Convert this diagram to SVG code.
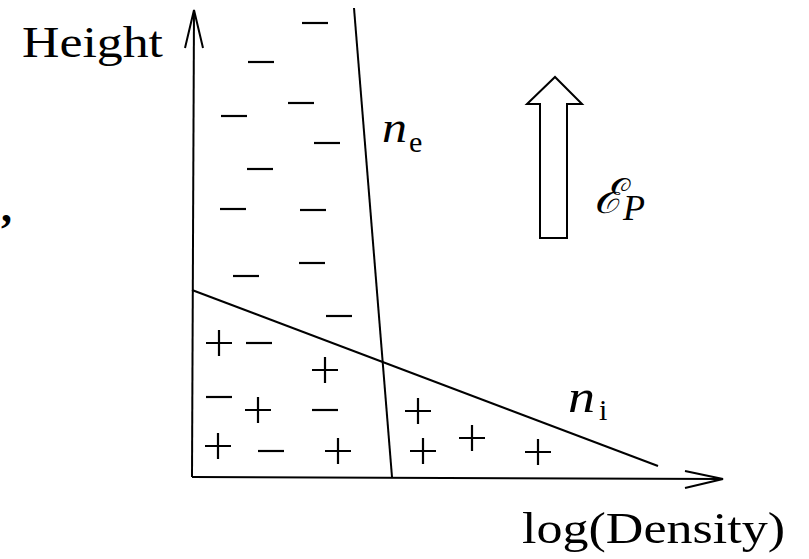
<svg xmlns="http://www.w3.org/2000/svg" xmlns:xlink="http://www.w3.org/1999/xlink" width="809" height="559" viewBox="0 0 809 559">
<style>
.ln{stroke:#000;stroke-width:2;fill:none;stroke-linecap:butt}
.sg{stroke:#000;stroke-width:2.2;fill:none}
.rm{font-family:"Liberation Serif","DejaVu Serif",serif;fill:#000}
.it{font-family:"Liberation Serif","DejaVu Serif",serif;font-style:italic;fill:#000}
</style>
<defs>
<path id="minus" class="sg" d="M-13,0 H13"/>
<path id="plus" class="sg" d="M-13,0 H13 M0,-13 V13"/>
</defs>
<rect width="809" height="559" fill="#fff"/>
<g id="axes">
<path class="ln" d="M192,477 L194,10"/>
<path class="ln" d="M185,48 L194,10 L203,48"/>
<path class="ln" d="M192,477 L722,479"/>
<path class="ln" d="M685,471 L723,479 L685,488"/>
</g>
<g id="connectors">
<path id="ne-line" class="ln" d="M354,8 L392,477"/>
<path id="ni-line" class="ln" d="M192,290 L658,466"/>
</g>
<g id="field-arrow">
<polygon class="ln" fill="#fff" points="540,238 540,104 527,104 555,77 582,104 567,104 567,238"/>
</g>
<g id="minus-signs">
<use xlink:href="#minus" x="315" y="23"/>
<use xlink:href="#minus" x="261" y="62"/>
<use xlink:href="#minus" x="301" y="103"/>
<use xlink:href="#minus" x="234" y="116"/>
<use xlink:href="#minus" x="327" y="143"/>
<use xlink:href="#minus" x="260" y="169"/>
<use xlink:href="#minus" x="233" y="209"/>
<use xlink:href="#minus" x="313" y="210"/>
<use xlink:href="#minus" x="312" y="263"/>
<use xlink:href="#minus" x="246" y="276"/>
<use xlink:href="#minus" x="339" y="316"/>
<use xlink:href="#minus" x="259" y="343"/>
<use xlink:href="#minus" x="219" y="397"/>
<use xlink:href="#minus" x="325" y="410"/>
<use xlink:href="#minus" x="271" y="451"/>
</g>
<g id="plus-signs">
<use xlink:href="#plus" x="219" y="343"/>
<use xlink:href="#plus" x="325" y="370"/>
<use xlink:href="#plus" x="258" y="410"/>
<use xlink:href="#plus" x="218" y="446"/>
<use xlink:href="#plus" x="338" y="451"/>
<use xlink:href="#plus" x="418" y="411"/>
<use xlink:href="#plus" x="423" y="451"/>
<use xlink:href="#plus" x="472" y="438"/>
<use xlink:href="#plus" x="538" y="452"/>
</g>
<g id="labels">
<text class="rm" x="22" y="57" font-size="44" textLength="141" lengthAdjust="spacingAndGlyphs">Height</text>
<text class="rm" x="522" y="543" font-size="45" textLength="263" lengthAdjust="spacingAndGlyphs">log(Density)</text>
<text class="it" x="382" y="142" font-size="44" textLength="25" lengthAdjust="spacingAndGlyphs">n</text>
<text class="rm" x="409" y="152" font-size="30">e</text>
<text class="it" x="568" y="412" font-size="46" textLength="27" lengthAdjust="spacingAndGlyphs">n</text>
<text class="rm" x="599" y="420" font-size="30">i</text>
<text class="it" x="594" y="213" font-size="48">ℰ</text>
<text class="it" x="623" y="220" font-size="36">P</text>
<text class="rm" x="1" y="222" font-size="44" font-weight="bold">,</text>
</g>
</svg>
